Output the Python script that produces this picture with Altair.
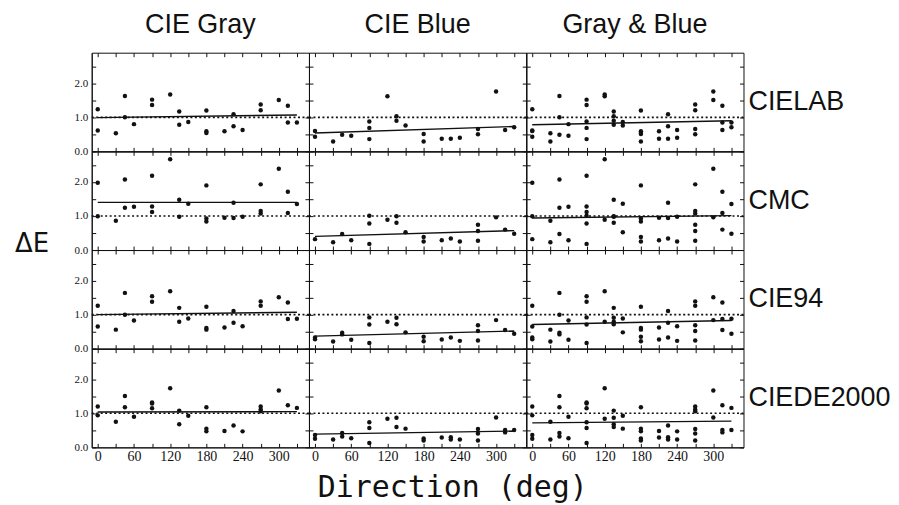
import altair as alt
import pandas as pd

W, H = 218, 99

methods = ["CIELAB", "CMC", "CIE94", "CIEDE2000"]
sets = ["CIE Gray", "CIE Blue", "Gray & Blue"]

# ---- CIELAB ----
lab_gray_dir = [0, 0, 30, 45, 45, 60, 90, 90, 120, 135, 135, 150, 180, 180, 180, 210, 225, 225, 240, 270, 270, 300, 315, 315, 330]
lab_gray_de = [1.24, 0.61, 0.53, 1.63, 1.00, 0.80, 1.52, 1.36, 1.67, 1.17, 0.78, 0.86, 1.20, 0.59, 0.54, 0.59, 1.09, 0.74, 0.63, 1.38, 1.21, 1.51, 1.34, 0.85, 0.85]
lab_blue_dir = [0, 0, 30, 45, 60, 90, 90, 90, 120, 135, 135, 150, 180, 180, 210, 225, 240, 270, 270, 300, 315, 330]
lab_blue_de = [0.60, 0.43, 0.29, 0.49, 0.46, 0.88, 0.69, 0.36, 1.62, 1.03, 0.90, 0.76, 0.51, 0.29, 0.37, 0.37, 0.40, 0.66, 0.50, 1.76, 0.63, 0.71]

# ---- CMC ----
cmc_gray_dir = [0, 0, 30, 45, 45, 60, 90, 90, 90, 120, 135, 135, 150, 180, 180, 180, 210, 225, 225, 240, 270, 270, 270, 300, 315, 315, 330]
cmc_gray_de = [1.98, 0.99, 0.86, 2.07, 1.24, 1.27, 2.18, 1.28, 1.12, 2.67, 1.48, 0.98, 1.36, 1.90, 0.93, 0.84, 0.95, 1.39, 0.94, 0.98, 1.93, 1.15, 1.07, 2.39, 1.71, 1.09, 1.35]
cmc_blue_dir = [0, 30, 45, 60, 90, 90, 90, 120, 135, 135, 150, 180, 180, 210, 225, 240, 270, 270, 270, 300, 315, 330]
cmc_blue_de = [0.32, 0.23, 0.47, 0.29, 1.01, 0.78, 0.18, 0.89, 0.99, 0.80, 0.52, 0.38, 0.25, 0.29, 0.34, 0.25, 0.74, 0.56, 0.27, 0.96, 0.60, 0.48]

# ---- CIE94 ----
c94_gray_dir = [0, 0, 30, 45, 45, 60, 90, 90, 120, 135, 135, 150, 180, 180, 180, 210, 225, 225, 240, 270, 270, 300, 315, 315, 330]
c94_gray_de = [1.26, 0.65, 0.56, 1.64, 1.00, 0.83, 1.54, 1.38, 1.69, 1.20, 0.79, 0.89, 1.23, 0.61, 0.56, 0.62, 1.11, 0.76, 0.66, 1.39, 1.26, 1.51, 1.36, 0.87, 0.88]
c94_blue_dir = [0, 0, 30, 45, 45, 60, 90, 90, 90, 120, 135, 135, 150, 180, 180, 210, 225, 240, 270, 270, 270, 300, 315, 330]
c94_blue_de = [0.33, 0.28, 0.21, 0.47, 0.42, 0.26, 0.92, 0.71, 0.17, 0.79, 0.91, 0.72, 0.48, 0.35, 0.22, 0.27, 0.33, 0.23, 0.69, 0.52, 0.24, 0.84, 0.55, 0.44]

# ---- CIEDE2000 ----
de00_gray_dir = [0, 0, 30, 45, 45, 60, 90, 90, 90, 120, 135, 135, 150, 180, 180, 180, 210, 225, 240, 270, 270, 270, 300, 315, 330]
de00_gray_de = [1.20, 0.94, 0.75, 1.51, 1.18, 0.90, 1.32, 1.29, 1.15, 1.74, 1.08, 0.68, 0.93, 1.18, 0.55, 0.47, 0.48, 0.64, 0.47, 1.20, 1.11, 1.06, 1.67, 1.24, 1.16]
de00_blue_dir = [0, 0, 30, 45, 45, 60, 90, 90, 90, 120, 135, 135, 150, 180, 180, 210, 225, 225, 240, 270, 270, 270, 300, 315, 315, 330]
de00_blue_de = [0.36, 0.25, 0.23, 0.42, 0.32, 0.27, 0.74, 0.57, 0.13, 0.84, 0.87, 0.60, 0.55, 0.26, 0.20, 0.29, 0.30, 0.23, 0.23, 0.54, 0.41, 0.20, 0.88, 0.51, 0.44, 0.51]

# regression lines (value at 0 deg, value at 330 deg)
line_dir = [0, 330]
fit_gray = [[0.99, 1.07], [1.40, 1.40], [1.00, 1.07], [1.04, 1.05]]
fit_blue = [[0.54, 0.73], [0.40, 0.57], [0.37, 0.52], [0.39, 0.48]]
fit_both = [[0.78, 0.90], [0.94, 1.01], [0.71, 0.83], [0.72, 0.77]]

gray_data = [(lab_gray_dir, lab_gray_de), (cmc_gray_dir, cmc_gray_de), (c94_gray_dir, c94_gray_de), (de00_gray_dir, de00_gray_de)]
blue_data = [(lab_blue_dir, lab_blue_de), (cmc_blue_dir, cmc_blue_de), (c94_blue_dir, c94_blue_de), (de00_blue_dir, de00_blue_de)]

x_ticks = list(range(0, 331, 30))
x_labels = [0, 60, 120, 180, 240, 300]
y_ticks = [0, 0.5, 1.0, 1.5, 2.0, 2.5]
y_labels = [0, 1, 2]

xs = alt.Scale(domain=[-10, 350], nice=False, zero=False)
ys = alt.Scale(domain=[0, 2.9], nice=False, zero=False)

BLACK = "#111111"


def tick_axis(orient, offset, values):
    return alt.Axis(orient=orient, offset=offset, values=values, labels=False, ticks=True,
                    tickSize=4, tickColor=BLACK, tickWidth=1, domain=True, domainColor=BLACK,
                    domainWidth=1, grid=False, title=None)


def panel(r, c):
    if c == 0:
        d, v = gray_data[r]
        fit = fit_gray[r]
    elif c == 1:
        d, v = blue_data[r]
        fit = fit_blue[r]
    else:
        d = gray_data[r][0] + blue_data[r][0]
        v = gray_data[r][1] + blue_data[r][1]
        fit = fit_both[r]
    pts = pd.DataFrame({"dir": d, "de": v})
    ln = pd.DataFrame({"dir": line_dir, "de": fit})
    ref = pd.DataFrame({"de": [1.0]})

    x_lab_axis = alt.Axis(orient="bottom", values=x_labels, labels=(r == 3), ticks=False,
                          domain=True, domainColor=BLACK, grid=False, title=None,
                          labelFont="Liberation Serif", labelFontSize=14, labelColor=BLACK,
                          labelPadding=2)
    y_lab_axis = alt.Axis(orient="left", values=y_labels, labels=(c == 0), format=".1f",
                          ticks=False, domain=True, domainColor=BLACK, grid=False, title=None,
                          labelFont="Liberation Serif", labelFontSize=11, labelColor=BLACK,
                          labelPadding=4)

    points = alt.Chart(pts).mark_circle(size=20, color=BLACK, opacity=1).encode(
        x=alt.X("dir:Q", scale=xs, axis=x_lab_axis),
        y=alt.Y("de:Q", scale=ys, axis=y_lab_axis),
    )
    line = alt.Chart(ln).mark_line(color=BLACK, strokeWidth=1.4).encode(
        x=alt.X("dir:Q", scale=xs, axis=tick_axis("top", -H, x_ticks)),
        y=alt.Y("de:Q", scale=ys, axis=tick_axis("right", -W, y_ticks)),
    )
    rule = alt.Chart(ref).mark_rule(color=BLACK, strokeWidth=1.6, strokeDash=[2, 2.5]).encode(
        y=alt.Y("de:Q", scale=ys, axis=tick_axis("left", -W, y_ticks)),
    )
    ghost = alt.Chart(pts).mark_circle(size=20, opacity=0).encode(
        x=alt.X("dir:Q", scale=xs, axis=tick_axis("bottom", -H, x_ticks)),
        y=alt.Y("de:Q", scale=ys, axis=None),
    )
    layers = [points, line, rule, ghost]
    if c == 2:
        lab = alt.Chart(pd.DataFrame({"t": [methods[r]]})).mark_text(
            align="left", baseline="middle", font="Liberation Sans", fontSize=27, color=BLACK
        ).encode(x=alt.value(W + 5), y=alt.value(H / 2), text="t:N")
        layers.append(lab)
    ch = alt.layer(*layers).resolve_axis(x="independent", y="independent").properties(width=W, height=H)
    if r == 0:
        ch = ch.properties(title=alt.TitleParams(sets[c], fontSize=27, font="Liberation Sans",
                                                 fontWeight="normal", color=BLACK, anchor="middle",
                                                 frame="group", offset=13))
    return ch


panels = [panel(r, c) for r in range(4) for c in range(3)]
grid = alt.concat(*panels, columns=3, spacing=0, bounds="flush").properties(
    title=alt.TitleParams("ΔE", orient="left", angle=0, fontSize=26, font="DejaVu Sans",
                          fontWeight="normal", color=BLACK, anchor="middle", offset=8, dy=-6)
)
chart = alt.vconcat(grid).properties(
    padding={"left": 6, "top": 2, "right": 0, "bottom": 0},
    title=alt.TitleParams("Direction (deg)", orient="bottom", fontSize=30, font="DejaVu Sans Mono",
                          fontWeight="normal", color=BLACK, anchor="middle", offset=10)
).configure_view(stroke=None).configure_concat(spacing=0)

chart.save("out.html", embed_options={"renderer": "svg", "actions": False})
